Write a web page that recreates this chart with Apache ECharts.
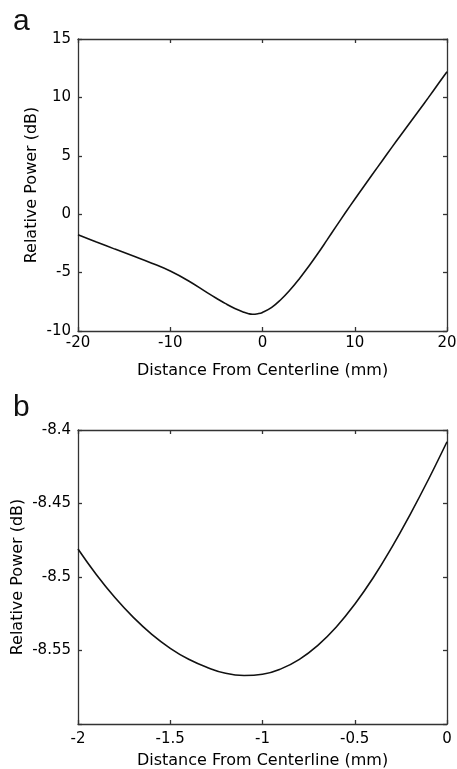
<!DOCTYPE html>
<html>
<head>
<meta charset="utf-8">
<script src="https://cdn.jsdelivr.net/npm/echarts@6/dist/echarts.min.js"></script>
<style>
html,body{margin:0;padding:0;background:#fff;}
#chart{width:457px;height:769px;}
</style>
</head>
<body>
<div id="chart"></div>
<script>
// Panel a
const topX = [-20, -18, -16, -14, -12, -10, -8, -6, -5, -4, -3, -2, -1.5, -1.1, -0.5, 0, 1, 2, 3, 4, 5, 6, 7, 8, 9, 10, 11, 12, 13, 14, 15, 16, 17, 18, 19, 20];
const topY = [-1.75, -2.38, -2.99, -3.58, -4.19, -4.87, -5.72, -6.72, -7.2, -7.66, -8.07, -8.4, -8.52, -8.567, -8.52, -8.41, -7.98, -7.3, -6.47, -5.52, -4.48, -3.37, -2.2, -1.02, 0.14, 1.28, 2.4, 3.5, 4.6, 5.7, 6.78, 7.85, 8.92, 10.0, 11.1, 12.2];
// Panel b
const botX = [-2.0, -1.9, -1.8, -1.7, -1.6, -1.5, -1.4, -1.3, -1.2, -1.1, -1.0, -0.9, -0.8, -0.7, -0.6, -0.5, -0.4, -0.3, -0.2, -0.1, 0.0];
const botY = [-8.481, -8.4985, -8.514, -8.5275, -8.539, -8.5485, -8.556, -8.5615, -8.5655, -8.567, -8.5662, -8.5625, -8.556, -8.5465, -8.534, -8.5185, -8.5005, -8.48, -8.4575, -8.4335, -8.408];

const xName = 'Distance From Centerline (mm)';
const yName = 'Relative Power (dB)';
const FONT = '"DejaVu Sans", "Liberation Sans", Arial, sans-serif';
const AX = '#333';

function fmt(v){ return String(+(+v).toFixed(2)); }

const chart = echarts.init(document.getElementById('chart'));
const lineStyle = {color: AX, width: 1.3};
const axLine = {show: true, onZero: false, lineStyle};
const tickIn = {show: true, inside: true, length: 4, lineStyle: {color: AX, width: 1.3}};
const lbl = {color: '#000', fontSize: 15, fontFamily: FONT};
const nameStyle = {color: '#000', fontSize: 16, fontFamily: FONT};

function zipData(xs, ys){ return xs.map((x,i)=>[x, ys[i]]); }

chart.setOption({
  animation: false,
  backgroundColor: '#fff',
  title: [
    {text: 'a', left: 8, top: 2, textStyle: {fontSize: 30, fontWeight: 'normal', color: '#111', fontFamily: '"Liberation Sans", Arial, sans-serif'}},
    {text: 'b', left: 8, top: 388, textStyle: {fontSize: 30, fontWeight: 'normal', color: '#111', fontFamily: '"Liberation Sans", Arial, sans-serif'}}
  ],
  grid: [
    {left: 78, top: 39, width: 369, height: 292, show: false, containLabel: false, outerBoundsMode: 'none'},
    {left: 78, top: 430, width: 369, height: 294, show: false, containLabel: false, outerBoundsMode: 'none'}
  ],
  xAxis: [
    {gridIndex: 0, type: 'value', min: -20, max: 20, interval: 10, position: 'bottom',
     name: xName, nameLocation: 'middle', nameGap: 32, nameMoveOverlap: false, nameTextStyle: nameStyle,
     axisLine: axLine, axisTick: tickIn, splitLine: {show: false},
     axisLabel: Object.assign({margin: 5, formatter: fmt}, lbl)},
    {gridIndex: 0, type: 'value', min: -20, max: 20, interval: 10, position: 'top',
     axisLine: axLine, axisTick: tickIn, splitLine: {show: false},
     axisLabel: {show: false}},
    {gridIndex: 1, type: 'value', min: -2, max: 0, interval: 0.5, position: 'bottom',
     name: xName, nameLocation: 'middle', nameGap: 29, nameMoveOverlap: false, nameTextStyle: nameStyle,
     axisLine: axLine, axisTick: tickIn, splitLine: {show: false},
     axisLabel: Object.assign({margin: 8, formatter: fmt}, lbl)},
    {gridIndex: 1, type: 'value', min: -2, max: 0, interval: 0.5, position: 'top',
     axisLine: axLine, axisTick: tickIn, splitLine: {show: false},
     axisLabel: {show: false}}
  ],
  yAxis: [
    {gridIndex: 0, type: 'value', min: -10, max: 15, interval: 5, position: 'left',
     name: yName, nameLocation: 'middle', nameGap: 38, nameMoveOverlap: false, nameTextStyle: nameStyle,
     axisLine: axLine, axisTick: tickIn, splitLine: {show: false},
     axisLabel: Object.assign({margin: 7, formatter: fmt}, lbl)},
    {gridIndex: 0, type: 'value', min: -10, max: 15, interval: 5, position: 'right',
     axisLine: axLine, axisTick: tickIn, splitLine: {show: false},
     axisLabel: {show: false}},
    {gridIndex: 1, type: 'value', min: -8.6, max: -8.4, interval: 0.05, position: 'left',
     name: yName, nameLocation: 'middle', nameGap: 52, nameMoveOverlap: false, nameTextStyle: nameStyle,
     axisLine: axLine, axisTick: tickIn, splitLine: {show: false},
     axisLabel: Object.assign({margin: 7, formatter: v => Math.abs(v + 8.6) < 1e-6 ? '' : fmt(v)}, lbl)},
    {gridIndex: 1, type: 'value', min: -8.6, max: -8.4, interval: 0.05, position: 'right',
     axisLine: axLine, axisTick: tickIn, splitLine: {show: false},
     axisLabel: {show: false}}
  ],
  series: [
    {type: 'line', xAxisIndex: 0, yAxisIndex: 0, data: zipData(topX, topY), smooth: 0.45,
     showSymbol: false, lineStyle: {color: '#111', width: 1.6}},
    {type: 'line', xAxisIndex: 2, yAxisIndex: 2, data: zipData(botX, botY), smooth: 0.45,
     showSymbol: false, lineStyle: {color: '#111', width: 1.6}}
  ]
});
</script>
</body>
</html>
